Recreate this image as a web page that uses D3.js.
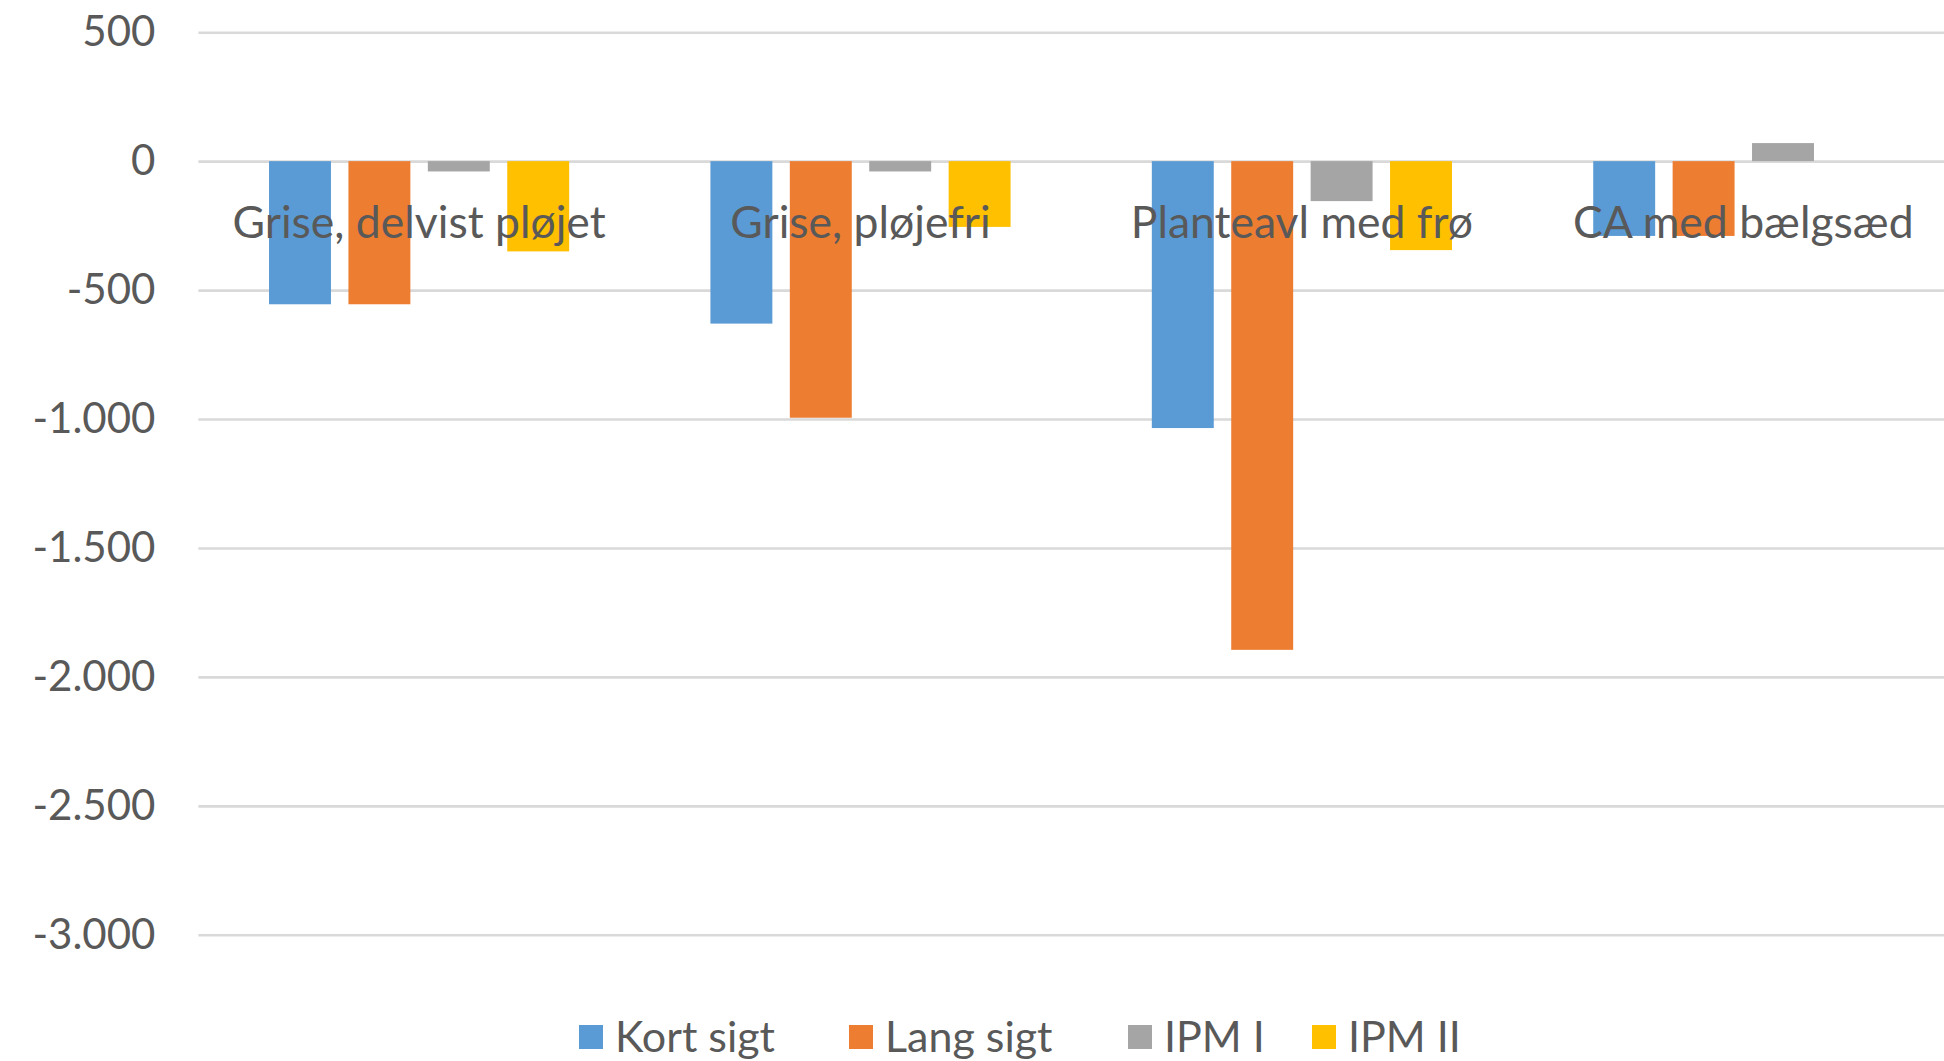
<!DOCTYPE html>
<html>
<head>
<meta charset="utf-8">
<script src="https://cdn.jsdelivr.net/npm/d3@7"></script>
<style>
  html, body { margin: 0; padding: 0; background: #fff; }
  svg { display: block; }
  text { font-family: Lato, "Noto Sans", sans-serif; fill: #595959; }
</style>
</head>
<body>
<svg id="chart" width="1944" height="1061"></svg>
<script>
// Categories and series
const categories = ["Grise, delvist pløjet", "Grise, pløjefri", "Planteavl med frø", "CA med bælgsæd"];
const seriesNames = ["Kort sigt", "Lang sigt", "IPM I", "IPM II"];
const seriesColors = ["#5B9BD5", "#ED7D31", "#A5A5A5", "#FFC000"];

// Values per series, in category order
const kortSigt = [-555, -630, -1035, -290];
const langSigt = [-555, -995, -1895, -290];
const ipmI     = [-40, -40, -155, 70];
const ipmII    = [-350, -255, -345, 0];

// Value axis ticks
const yTicks = [500, 0, -500, -1000, -1500, -2000, -2500, -3000];

const seriesValues = [kortSigt, langSigt, ipmI, ipmII];
const rows = categories.map((c, i) => ({
  category: c,
  values: seriesNames.map((s, j) => ({ series: s, value: seriesValues[j][i], color: seriesColors[j] }))
}));

const svg = d3.select("#chart");
const plot = { left: 198.4, right: 1964, top: 32.2, bottom: 934.8 };

const da = d3.formatLocale({ decimal: ",", thousands: ".", grouping: [3], currency: ["", " kr."], minus: "-" });
const fmt = da.format(",d");

const y = d3.scaleLinear().domain([-3000, 500]).range([plot.bottom, plot.top]);
const x0 = d3.scaleBand().domain(categories).range([plot.left, plot.right])
  .paddingInner(0.32).paddingOuter(0.16);
const x1 = d3.scaleBand().domain(seriesNames).range([0, x0.bandwidth()])
  .paddingInner(0.22).paddingOuter(0);

// Gridlines and tick labels
const yAxis = svg.append("g")
  .attr("transform", `translate(${plot.left},0)`)
  .call(d3.axisLeft(y).tickValues(yTicks).tickFormat(fmt)
    .tickSize(-(1944 - plot.left)).tickPadding(43));
yAxis.select(".domain").remove();
yAxis.selectAll(".tick line").attr("stroke", "#d9d9d9").attr("stroke-width", 2.6);
yAxis.selectAll(".tick text")
  .attr("font-size", 42).attr("fill", "#595959")
  .style("font-family", "Lato, 'Noto Sans', sans-serif");

// Bars
const groups = svg.append("g").selectAll("g").data(rows).join("g")
  .attr("transform", d => `translate(${x0(d.category)},0)`);
groups.selectAll("rect").data(d => d.values).join("rect")
  .attr("x", d => x1(d.series))
  .attr("width", x1.bandwidth())
  .attr("y", d => y(Math.max(0, d.value)))
  .attr("height", d => Math.abs(y(d.value) - y(0)))
  .attr("fill", d => d.color);

// Category labels sit just below the zero line, over the bars
svg.append("g").selectAll("text").data(categories).join("text")
  .attr("x", d => x0(d) + x0.bandwidth() / 2)
  .attr("y", y(0) + 77)
  .attr("text-anchor", "middle")
  .attr("font-size", 44.5)
  .text(d => d);

// Legend, one slot per series
const legendSlots = [579, 849, 1128, 1312];
const items = svg.append("g").attr("transform", "translate(0,1037)")
  .selectAll("g").data(seriesNames).join("g")
  .attr("transform", (d, i) => `translate(${legendSlots[i]},0)`);
items.append("rect").attr("width", 24).attr("height", 24).attr("y", -12)
  .attr("fill", (d, i) => seriesColors[i]);
items.append("text").attr("x", 36).attr("y", 15).attr("font-size", 43).text(d => d);
</script>
</body>
</html>
